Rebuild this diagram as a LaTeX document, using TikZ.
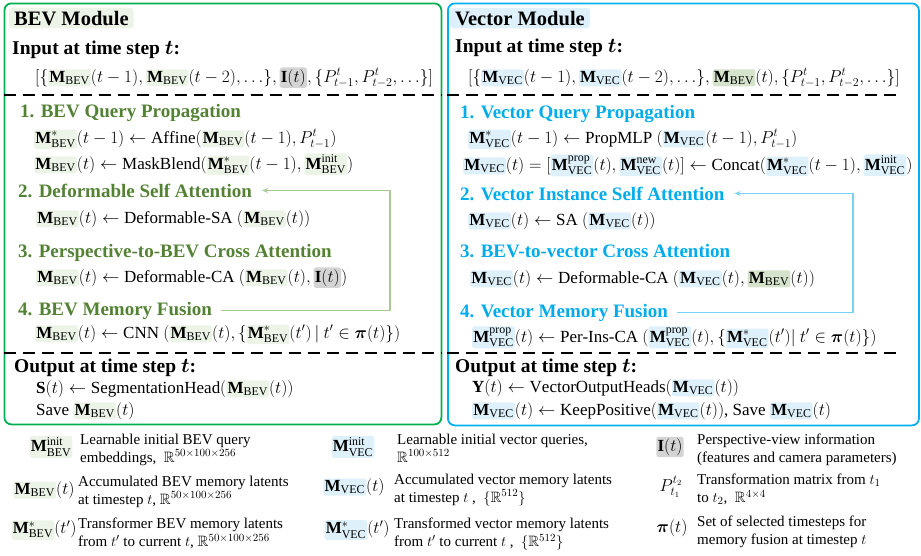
\documentclass[tikz,border=0pt]{standalone}
\usepackage{amsmath}
\usepackage{amssymb}
\usepackage{fontspec}
\setmainfont{Liberation Serif}
\usetikzlibrary{positioning,arrows.meta}

\definecolor{bevline}{RGB}{0,176,80}
\definecolor{vecline}{RGB}{0,176,240}
\definecolor{bevhead}{RGB}{84,130,53}
\definecolor{vechead}{RGB}{0,172,236}
\definecolor{bevbg}{RGB}{236,244,231}
\definecolor{vecbg}{RGB}{222,241,251}
\definecolor{pvbg}{RGB}{212,212,212}
\definecolor{bevdk}{RGB}{213,226,204}
\definecolor{bevloopc}{RGB}{168,200,150}
\definecolor{vecloopc}{RGB}{120,210,245}

\tikzset{hl/.style={inner xsep=1.2pt, inner ysep=1.6pt, rounded corners=2.5pt}}
\newcommand{\bevhl}[1]{\tikz[baseline=(h.base)]\node[hl,fill=bevbg](h){$#1$};}
\newcommand{\vechl}[1]{\tikz[baseline=(h.base)]\node[hl,fill=vecbg](h){$#1$};}
\newcommand{\pvhl}[1]{\tikz[baseline=(h.base)]\node[hl,fill=pvbg](h){$#1$};}
\newcommand{\bevdkhl}[1]{\tikz[baseline=(h.base)]\node[hl,fill=bevdk](h){$#1$};}
\newcommand{\Mbev}{\mathbf{M}_{\mathrm{BEV}}}
\newcommand{\Mvec}{\mathbf{M}_{\mathrm{VEC}}}

\begin{document}
\begin{tikzpicture}[
    x=1pt, y=-1pt,
    panel/.style={
        draw,
        line width=1.8pt,
        rounded corners=7pt,
        inner sep=0pt,
        anchor=north west
      },
    modtitle/.style={
        anchor=base west,
        font=\fontsize{20.5}{24}\selectfont\bfseries,
        rounded corners=3pt,
        inner xsep=5pt,
        inner ysep=3pt
      },
    inhead/.style={anchor=base west, inner sep=0pt, font=\fontsize{19.5}{23}\selectfont\bfseries},
    stephead/.style={anchor=base west, inner sep=0pt, font=\fontsize{19}{22}\selectfont\bfseries},
    eqline/.style={anchor=base west, inner sep=0pt, font=\fontsize{17}{20}\selectfont},
    divider/.style={line width=1.6pt, dash pattern=on 12pt off 7pt},
    loopline/.style={line width=1.3pt, -{Stealth[length=6pt,width=5pt]}},
    legsym/.style={inner sep=0pt, font=\fontsize{17}{20}\selectfont},
    legtxt/.style={anchor=north west, align=left, inner sep=0pt, font=\fontsize{15}{17.5}\selectfont}
  ]
  \useasboundingbox (0,0) rectangle (921,555);

  % panels
  \node[panel, draw=bevline, minimum width=437pt, minimum height=421pt] (bevbox) at (3.5,2.5) {};
  \node[panel, draw=vecline, minimum width=471pt, minimum height=422pt] (vecbox) at (447,2.5) {};

  % BEV module
  \node[modtitle, fill=bevbg] (bevtitle) at (9,25) {BEV Module};
  \node[inhead] (bevin) at (12,54) {Input at time step $\boldsymbol{t}$:};
  \node[eqline] (bevlist) at (35,82) {$[\{\bevhl{\Mbev}(t-1), \bevhl{\Mbev}(t-2), \ldots\}, \pvhl{\mathbf{I}(t)}, \{P^t_{t-1}, P^t_{t-2}, \ldots\}]$};
  \draw[divider] (bevbox.west |- 0,95) -- (bevbox.east |- 0,95);
  \node[stephead, bevhead] (bevh1) at (20,117) {1. BEV Query Propagation};
  \node[eqline] (beve1a) at (34,143) {$\bevhl{\Mbev^*}(t-1) \leftarrow \mathrm{Affine}(\bevhl{\Mbev}(t-1), P^t_{t-1})$};
  \node[eqline] (beve1b) at (34,169) {$\bevhl{\Mbev}(t) \leftarrow \mathrm{MaskBlend}(\bevhl{\Mbev^*}(t-1), \bevhl{\Mbev^{\mathrm{init}}})$};
  \node[stephead, bevhead] (bevh2) at (18,197) {2. Deformable Self Attention};
  \node[eqline] (beve2) at (36,223) {$\bevhl{\Mbev}(t) \leftarrow \text{Deformable-SA}\ (\bevhl{\Mbev}(t))$};
  \node[stephead, bevhead] (bevh3) at (18,257) {3. Perspective-to-BEV Cross Attention};
  \node[eqline] (beve3) at (36,282) {$\bevhl{\Mbev}(t) \leftarrow \text{Deformable-CA}\ (\bevhl{\Mbev}(t), \pvhl{\mathbf{I}(t)})$};
  \node[stephead, bevhead] (bevh4) at (18,315) {4. BEV Memory Fusion};
  \node[eqline] (beve4) at (35,338) {$\bevhl{\Mbev}(t) \leftarrow \mathrm{CNN}\ (\bevhl{\Mbev}(t), \{\bevhl{\Mbev^*}(t')\,|\ t' \in \boldsymbol{\pi}(t)\})$};
  \draw[divider] (bevbox.west |- 0,353) -- (bevbox.east |- 0,353);
  \node[inhead] (bevout) at (14,372) {Output at time step $\boldsymbol{t}$:};
  \node[eqline] (bevo1) at (36,393) {$\mathbf{S}(t) \leftarrow \mathrm{SegmentationHead}(\bevhl{\Mbev}(t))$};
  \node[eqline] (bevo2) at (36,415) {Save $\bevhl{\Mbev}(t)$};
  \coordinate (bevloop) at (390,0);
  \draw[loopline, bevloopc] ([xshift=9pt]bevh4.east) -- (bevloop |- bevh4.east) -- (bevloop |- bevh2.east) -- ([xshift=10pt]bevh2.east);

  % Vector module
  \node[modtitle, fill=vecbg] (vectitle) at (450,25) {Vector Module};
  \node[inhead] (vecin) at (455,52) {Input at time step $\boldsymbol{t}$:};
  \node[eqline] (veclist) at (468,82) {$[\{\vechl{\Mvec}(t-1), \vechl{\Mvec}(t-2), \ldots\}, \bevdkhl{\Mbev}(t), \{P^t_{t-1}, P^t_{t-2}, \ldots\}]$};
  \draw[divider] (vecbox.west |- 0,95) -- ([xshift=-18pt]vecbox.east |- 0,95);
  \node[stephead, vechead] (vech1) at (460,118) {1. Vector Query Propagation};
  \node[eqline] (vece1a) at (468,143) {$\vechl{\Mvec^*}(t-1) \leftarrow \mathrm{PropMLP}\ (\vechl{\Mvec}(t-1), P^t_{t-1})$};
  \node[eqline] (vece1b) at (463,170) {$\vechl{\Mvec}(t) = [\vechl{\Mvec^{\mathrm{prop}}}(t), \vechl{\Mvec^{\mathrm{new}}}(t)] \leftarrow \mathrm{Concat}(\vechl{\Mvec^*}(t-1), \vechl{\Mvec^{\mathrm{init}}})$};
  \node[stephead, vechead] (vech2) at (460,200) {2. Vector Instance Self Attention};
  \node[eqline] (vece2) at (468,225) {$\vechl{\Mvec}(t) \leftarrow \mathrm{SA}\ (\vechl{\Mvec}(t))$};
  \node[stephead, vechead] (vech3) at (460,257) {3. BEV-to-vector Cross Attention};
  \node[eqline] (vece3) at (470,283) {$\vechl{\Mvec}(t) \leftarrow \text{Deformable-CA}\ (\vechl{\Mvec}(t), \bevdkhl{\Mbev}(t))$};
  \node[stephead, vechead] (vech4) at (460,317) {4. Vector Memory Fusion};
  \node[eqline] (vece4) at (472,342) {$\vechl{\Mvec^{\mathrm{prop}}}(t) \leftarrow \text{Per-Ins-CA}\ (\vechl{\Mvec^{\mathrm{prop}}}(t), \{\vechl{\Mvec^*}(t')|\ t' \in \boldsymbol{\pi}(t)\})$};
  \draw[divider] (vecbox.west |- 0,353) -- ([xshift=-18pt]vecbox.east |- 0,353);
  \node[inhead] (vecout) at (455,372) {Output at time step $\boldsymbol{t}$:};
  \node[eqline] (veco1) at (472,392) {$\mathbf{Y}(t) \leftarrow \mathrm{VectorOutputHeads}(\vechl{\Mvec}(t))$};
  \node[eqline] (veco2) at (472,415) {$\vechl{\Mvec}(t) \leftarrow \mathrm{KeepPositive}(\vechl{\Mvec}(t))$, Save $\vechl{\Mvec}(t)$};
  \coordinate (vecloop) at (853,0);
  \draw[loopline, vecloopc] ([xshift=9pt]vech4.east) -- (vecloop |- vech4.east) -- (vecloop |- vech2.east) -- ([xshift=10pt]vech2.east);

  % legend
  \node[legsym] (kbinit) at (51,447) {\bevhl{\Mbev^{\mathrm{init}}}};
  \node[legtxt] (kbinittxt) at (80,434) {Learnable initial BEV query\\embeddings, \ $\mathbb{R}^{50\times100\times256}$};
  \node[legsym] (kbmem) at (44,490) {$\bevhl{\Mbev}(t)$};
  \node[legtxt] (kbmemtxt) at (78,476) {Accumulated BEV memory latents\\at timestep $t$, $\mathbb{R}^{50\times100\times256}$};
  \node[legsym] (kbtr) at (44,530) {$\bevhl{\Mbev^*}(t')$};
  \node[legtxt] (kbtrtxt) at (78,518) {Transformer BEV memory latents\\from $t'$ to current $t$, $\mathbb{R}^{50\times100\times256}$};

  \node[legsym] (kvinit) at (353,447) {\vechl{\Mvec^{\mathrm{init}}}};
  \node[legtxt] (kvinittxt) at (397,434) {Learnable initial vector queries,\\$\mathbb{R}^{100\times512}$};
  \node[legsym] (kvmem) at (354,487) {$\vechl{\Mvec}(t)$};
  \node[legtxt] (kvmemtxt) at (394,474) {Accumulated vector memory latents\\at timestep $t$ , \ $\{\mathbb{R}^{512}\}$};
  \node[legsym] (kvtr) at (357,530) {$\vechl{\Mvec^*}(t')$};
  \node[legtxt] (kvtrtxt) at (394,518) {Transformed vector memory latents\\from $t'$ to current $t$ , \ $\{\mathbb{R}^{512}\}$};

  \node[legsym] (kpv) at (670,447) {\pvhl{\mathbf{I}(t)}};
  \node[legtxt] (kpvtxt) at (697,434) {Perspective-view information\\(features and camera parameters)};
  \node[legsym] (kpm) at (671,487) {$P^{t_2}_{t_1}$};
  \node[legtxt] (kpmtxt) at (697,474) {Transformation matrix from $t_1$\\to $t_2$, \ $\mathbb{R}^{4\times4}$};
  \node[legsym] (kpi) at (672,528) {$\boldsymbol{\pi}(t)$};
  \node[legtxt] (kpitxt) at (697,516) {Set of selected timesteps for\\memory fusion at timestep $t$};
\end{tikzpicture}
\end{document}
